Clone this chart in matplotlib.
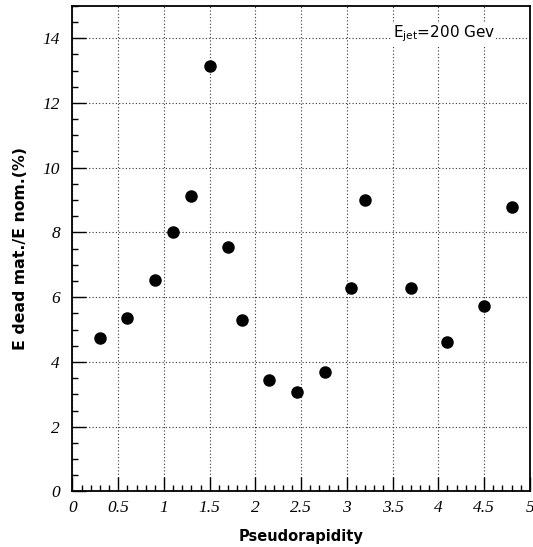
import matplotlib.pyplot as plt
from matplotlib.ticker import MultipleLocator

# pseudorapidity bins and dead material energy fraction (%)
eta = [0.3, 0.6, 0.9, 1.1, 1.3, 1.5, 1.7, 1.85, 2.15, 2.45, 2.76, 3.05, 3.2, 3.7, 4.1, 4.5, 4.8]
dead_frac = [4.75, 5.36, 6.53, 8.01, 9.13, 13.14, 7.55, 5.29, 3.44, 3.07, 3.70, 6.29, 9.0, 6.27, 4.62, 5.73, 8.78]

x_ticks = [0, 0.5, 1, 1.5, 2, 2.5, 3, 3.5, 4, 4.5, 5]
x_tick_labels = ["0", "0.5", "1", "1.5", "2", "2.5", "3", "3.5", "4", "4.5", "5"]
y_ticks = [0, 2, 4, 6, 8, 10, 12, 14]

fig = plt.figure(figsize=(5.33, 5.47), dpi=100)
ax = fig.add_axes([0.136, 0.1015, 0.858, 0.888])

ax.plot(eta, dead_frac, "o", color="black", markersize=8, zorder=3)

ax.set_xlim(0, 5)
ax.set_ylim(0, 15)
ax.set_xticks(x_ticks)
ax.set_xticklabels(x_tick_labels)
ax.set_yticks(y_ticks)
ax.xaxis.set_minor_locator(MultipleLocator(0.1))
ax.yaxis.set_minor_locator(MultipleLocator(0.5))

ax.grid(True, which="major", color="#333333", linestyle=(0, (1, 2)), linewidth=0.8)
ax.tick_params(which="major", direction="in", length=10, width=1, top=False, right=False)
ax.tick_params(which="minor", direction="in", length=4.5, width=1, top=False, right=False)
for lab in ax.get_xticklabels() + ax.get_yticklabels():
    lab.set_family("Liberation Serif")
    lab.set_style("italic")
    lab.set_fontsize(12.5)
ax.tick_params(axis="x", pad=6)
ax.tick_params(axis="y", pad=9)

for sp in ax.spines.values():
    sp.set_linewidth(1.3)

ax.set_xlabel("Pseudorapidity", fontsize=10.5, fontweight="bold")
ax.set_ylabel("E dead mat./E nom.(%)", fontsize=11.3, fontweight="bold")
ax.xaxis.set_label_coords(0.5, -0.078)
ax.yaxis.set_label_coords(-0.097, 0.5)

ax.text(3.5, 14.03, r"E$_{\mathregular{jet}}$=200 Gev",
        fontsize=11, ha="left", va="baseline",
        bbox=dict(facecolor="white", edgecolor="none", pad=0.5))

fig.savefig("out.png", dpi=100)
